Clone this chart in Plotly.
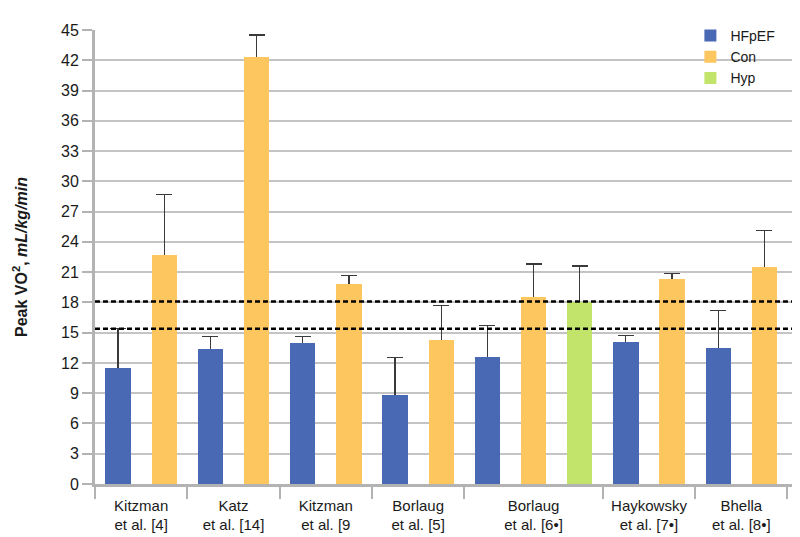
import plotly.graph_objects as go

# ---- data ----
studies = ["Kitzman<br>et al. [4]", "Katz<br>et al. [14]", "Kitzman<br>et al. [9",
           "Borlaug<br>et al. [5]", "Borlaug<br>et al. [6•]", "Haykowsky<br>et al. [7•]",
           "Bhella<br>et al. [8•]"]
hfpef = [11.5, 13.4, 14.0, 8.8, 12.6, 14.1, 13.5]
hfpef_err = [3.9, 1.2, 0.6, 3.7, 3.15, 0.6, 3.7]
con = [22.7, 42.3, 19.8, 14.3, 18.5, 20.3, 21.5]
con_err = [6.0, 2.2, 0.85, 3.4, 3.3, 0.6, 3.6]
hyp = [None, None, None, None, 18.0, None, None]
hyp_err = [None, None, None, None, 3.6, None, None]
ref_lines = [18.1, 15.4]
y_ticks = list(range(0, 46, 3))

groups = [("HFpEF", hfpef, hfpef_err, "#4a69b4"),
          ("Con", con, con_err, "#fec65f"),
          ("Hyp", hyp, hyp_err, "#c3e46a")]

# slot positions: each present bar takes one slot, in study order
pos = {g[0]: ([], [], []) for g in groups}
centers, bounds = [], [-0.5]
slot = 0
for i in range(len(studies)):
    start = slot
    for name, vals, errs, _ in groups:
        if vals[i] is not None:
            pos[name][0].append(slot)
            pos[name][1].append(vals[i])
            pos[name][2].append(errs[i])
            slot += 1
    centers.append((start + slot - 1) / 2)
    bounds.append(slot - 0.5)

fig = go.Figure()
# first pass: bars carrying (symmetric) error bars; the lower half is hidden by the second pass
for name, vals, errs, color in groups:
    xs, ys, es = pos[name]
    fig.add_trace(go.Bar(
        x=xs, y=ys, name=name, width=0.55, showlegend=False, hoverinfo="skip",
        marker=dict(color=color, line=dict(width=0)),
        error_y=dict(type="data", array=es, symmetric=True,
                     color="#3a3a3a", thickness=1.2, width=8),
    ))
# second pass: the visible bars on top
for name, vals, errs, color in groups:
    xs, ys, es = pos[name]
    fig.add_trace(go.Bar(
        x=xs, y=ys, name=name, width=0.55,
        marker=dict(color=color, line=dict(width=0)),
    ))

for v in ref_lines:
    fig.add_shape(type="line", xref="paper", yref="y", x0=0, x1=1.003, y0=v, y1=v,
                  line=dict(color="black", width=2.5, dash="5px,3px"), layer="above")

font_family = "Liberation Sans, Arial, Helvetica, sans-serif"
fig.update_layout(
    width=800, height=537,
    margin=dict(l=87, r=15, t=19, b=56),
    plot_bgcolor="white", paper_bgcolor="white",
    font=dict(family=font_family, size=15, color="#1a1a1a"),
    barmode="overlay", bargap=0,
    showlegend=True,
    legend=dict(x=0.853, y=1.022, xanchor="left", yanchor="top",
                bgcolor="rgba(0,0,0,0)", font=dict(size=14), traceorder="normal"),
    xaxis=dict(range=[-0.5, 14.62], tickmode="array", tickvals=centers, ticktext=studies,
               ticks="outside", ticklen=6, tickcolor="rgba(0,0,0,0)",
               showgrid=False, zeroline=False,
               showline=True, linecolor="#b3b3b3", linewidth=2.5,
               tickfont=dict(size=15),
               minor=dict(tickmode="array", tickvals=bounds, ticks="outside",
                          ticklen=12, tickcolor="#b3b3b3", tickwidth=1.5, showgrid=False)),
    yaxis=dict(range=[0, 45], tickmode="array", tickvals=y_ticks,
               ticks="outside", ticklen=10, tickcolor="#b3b3b3", tickwidth=1.5,
               showgrid=True, gridcolor="#c4c4c4", gridwidth=1.6,
               zeroline=False, showline=True, linecolor="#b3b3b3", linewidth=3,
               tickfont=dict(size=16),
               title=dict(text="<b>Peak VO<sup>2</sup>, <i>mL/kg/min</i></b>",
                          font=dict(size=16), standoff=30)),
)

fig.write_html("out.html")
